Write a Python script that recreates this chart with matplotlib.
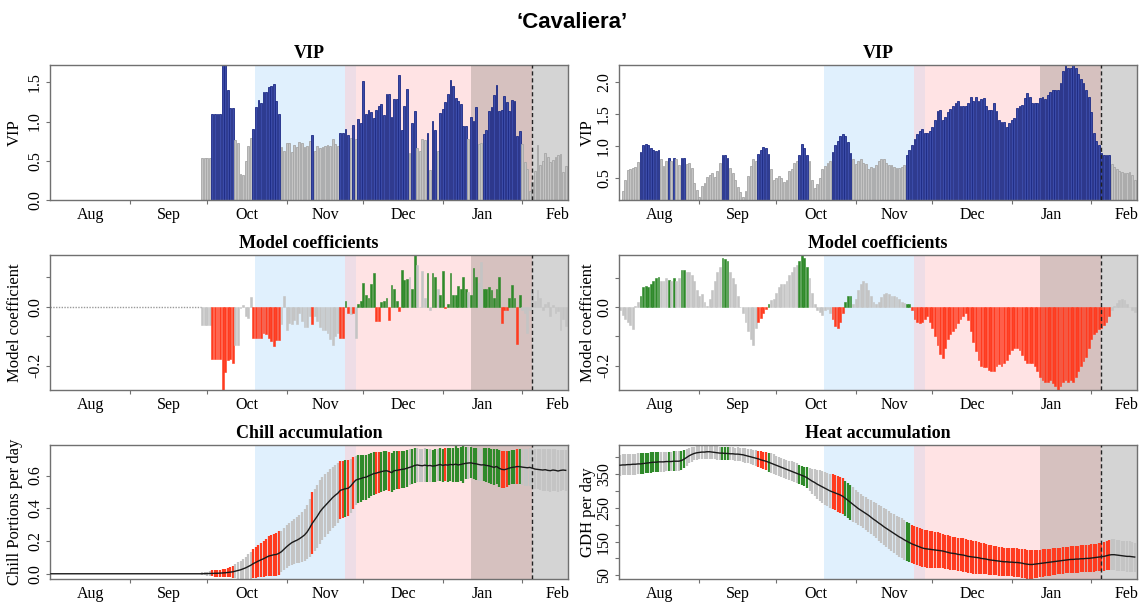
import numpy as np
import matplotlib
matplotlib.use('Agg')
import matplotlib.pyplot as plt

plt.rcParams['font.family'] = ['Liberation Serif', 'DejaVu Serif']

# one bar per day, 1 Aug (day 0) to 18 Feb (day 201)
days = np.arange(202)
month_starts = [31, 61, 92, 122, 153, 184]
month_mids = [15.5, 46, 76.5, 107, 137.5, 168.5, 198]
month_labels = ['Aug', 'Sep', 'Oct', 'Nov', 'Dec', 'Jan', 'Feb']

# phase shading (day boundaries) and bloom date
phase_bounds = [79.5, 115, 119, 164, 188, 202]
phase_colors = ['#E0F0FD', '#EEDDE6', '#FFE3E4', '#D6C1BF', '#D4D4D4']
bloom_day = 188

# ---- left column: VIP, coefficients, chill (analysis starts 28 Sep) ----
vip_left = [0.0] * 59 + [
    0.54, 0.54, 0.54, 0.54,
    1.10, 1.10, 1.10, 1.10, 1.72, 1.72, 1.40, 1.17, 1.17,
    0.77, 0.72, 0.33, 0.32, 0.50, 0.69, 0.79,
    0.91, 1.19, 1.28, 1.23, 1.38, 1.37, 1.44, 1.45, 1.48, 1.26, 1.10,
    0.68, 0.62, 0.72, 0.72, 0.61, 0.70, 0.67, 0.74, 0.72, 0.68, 0.69, 0.75,
    0.83,
    0.62, 0.69, 0.66, 0.68, 0.69, 0.70, 0.69, 0.78, 0.71, 0.69,
    0.86, 0.86, 0.90, 0.83, 0.79, 0.96, 0.78,
    1.03, 0.98, 1.52, 1.09, 1.15, 1.12, 1.05, 1.15, 1.20, 1.22,
    1.08, 1.35, 1.35, 1.06, 1.29, 1.29, 1.59, 0.89, 1.20, 1.42,
    0.60, 0.98, 1.14, 0.66, 0.62, 0.78, 0.77, 0.86, 0.38, 1.01,
    0.89, 0.62, 1.11, 1.16, 1.25, 1.35, 1.53, 1.45, 1.30, 1.26,
    1.22, 0.94, 0.94, 0.78, 1.06, 1.01, 1.19, 0.71, 0.72, 0.84,
    0.89, 1.14, 1.19, 1.34, 1.46, 1.13, 1.15, 1.33, 1.25, 1.13,
    1.28, 1.26, 0.81, 0.88, 0.71, 0.48, 0.40, 0.11, 0.23, 0.37,
    0.70, 0.45, 0.50, 0.60, 0.55, 0.49, 0.51, 0.55, 0.57, 0.58, 0.36, 0.43]

coef_left = [0.0] * 59 + [
    -0.062, -0.062, -0.062, -0.062,
    -0.176, -0.176, -0.176, -0.176, -0.282, -0.22, -0.18, -0.176, -0.19,
    -0.128, -0.128, -0.005, 0.005, -0.03, -0.037, 0.032,
    -0.107, -0.107, -0.107, -0.107, -0.088, -0.094, -0.107, -0.117, -0.134, -0.114, -0.114,
    -0.06, 0.035, -0.08, -0.055, -0.06, -0.045, -0.06, -0.02, -0.05, -0.07, -0.07, -0.03,
    -0.06,
    -0.03, -0.05, -0.07, -0.08, -0.08, -0.09, -0.11, -0.13, -0.10, -0.09,
    -0.107, -0.107, 0.018, -0.02, -0.025, -0.02, -0.107,
    0.01, 0.02, 0.08, 0.04, 0.03, 0.078, 0.114, -0.05, -0.05, 0.015,
    0.02, 0.03, -0.045, 0.075, 0.06, 0.02, -0.015, 0.125, 0.09, 0.095,
    0.10, 0.06, 0.175, 0.14, 0.0, 0.12, 0.03, 0.115, -0.01, 0.115,
    0.10, 0.06, 0.04, 0.12, -0.005, 0.01, 0.115, 0.04, 0.04, 0.07,
    0.06, 0.10, 0.06, 0.05, 0.04, 0.13, 0.10, 0.08, 0.15, 0.06,
    0.06, 0.065, 0.055, 0.03, 0.06, 0.10, -0.055, -0.01, -0.01, 0.03,
    0.075, 0.03, -0.125, 0.04, -0.01, -0.02, -0.09, -0.01, 0.06, 0.02,
    0.055, 0.03, -0.01, 0.01, 0.015, -0.03, 0.005, -0.02, -0.015, -0.08, -0.04, -0.065]

chill_mean = [0.0] * 59 + [
    0.000, 0.001, 0.001, 0.002,
    0.002, 0.003, 0.003, 0.004, 0.005, 0.006, 0.008, 0.010, 0.012,
    0.016, 0.020, 0.024, 0.030, 0.036, 0.044, 0.052,
    0.062, 0.070, 0.078, 0.085, 0.092, 0.100, 0.108, 0.112, 0.116, 0.118, 0.125,
    0.135, 0.150, 0.165, 0.178, 0.190, 0.198, 0.205, 0.214, 0.225, 0.237, 0.255, 0.280,
    0.308,
    0.330, 0.352, 0.378, 0.398, 0.415, 0.432, 0.450, 0.466, 0.480, 0.492,
    0.510, 0.515, 0.520, 0.522, 0.535, 0.555, 0.572,
    0.578, 0.582, 0.588, 0.590, 0.598, 0.605, 0.612, 0.615, 0.620, 0.624,
    0.628, 0.630, 0.625, 0.618, 0.630, 0.632, 0.635, 0.638, 0.640, 0.645,
    0.650, 0.655, 0.662, 0.665, 0.662, 0.660, 0.664, 0.660, 0.662, 0.658,
    0.660, 0.664, 0.668, 0.662, 0.666, 0.664, 0.668, 0.666, 0.670, 0.665,
    0.668, 0.672, 0.675, 0.677, 0.678, 0.674, 0.672, 0.668, 0.665, 0.666,
    0.662, 0.660, 0.655, 0.650, 0.656, 0.645, 0.638, 0.636, 0.640, 0.646,
    0.650, 0.652, 0.655, 0.655, 0.652, 0.650, 0.648, 0.650, 0.645, 0.640,
    0.638, 0.636, 0.634, 0.636, 0.632, 0.630, 0.634, 0.632, 0.628, 0.632, 0.634, 0.632]

chill_sd = [0.0] * 59 + [
    0.008, 0.010, 0.012, 0.014,
    0.018, 0.020, 0.021, 0.022, 0.024, 0.026, 0.028, 0.032, 0.036,
    0.042, 0.050, 0.056, 0.062, 0.068, 0.075, 0.082,
    0.090, 0.095, 0.100, 0.106, 0.110, 0.115, 0.120, 0.124, 0.128, 0.132, 0.135,
    0.125, 0.128, 0.130, 0.132, 0.135, 0.138, 0.142, 0.148, 0.152, 0.158, 0.165, 0.175,
    0.190,
    0.190, 0.192, 0.195, 0.193, 0.192, 0.190, 0.190, 0.188, 0.186, 0.182,
    0.178, 0.176, 0.175, 0.172, 0.165, 0.158, 0.150,
    0.145, 0.142, 0.140, 0.138, 0.135, 0.132, 0.130, 0.128, 0.125, 0.122,
    0.120, 0.118, 0.118, 0.120, 0.118, 0.116, 0.115, 0.114, 0.113, 0.112,
    0.110, 0.108, 0.105, 0.102, 0.100, 0.100, 0.102, 0.100, 0.100, 0.098,
    0.100, 0.098, 0.100, 0.102, 0.100, 0.104, 0.102, 0.105, 0.108, 0.105,
    0.104, 0.115, 0.098, 0.095, 0.095, 0.096, 0.098, 0.100, 0.100, 0.102,
    0.104, 0.106, 0.108, 0.110, 0.108, 0.112, 0.114, 0.112, 0.108, 0.105,
    0.104, 0.105, 0.106, 0.108, 0.110, 0.112, 0.114, 0.116, 0.118, 0.120,
    0.122, 0.124, 0.126, 0.128, 0.128, 0.130, 0.130, 0.128, 0.126, 0.126, 0.125, 0.124]

# ---- right column: VIP, coefficients, heat ----
vip_right = [
    0.15, 0.29, 0.46, 0.62, 0.64, 0.65, 0.67, 0.74, 0.90, 1.01,
    1.03, 1.01, 0.97, 0.93, 0.92, 0.94, 0.79, 0.69, 0.76, 0.81,
    0.76, 0.81, 0.79, 0.70, 0.81, 0.81, 0.72, 0.73, 0.66, 0.42,
    0.30, 0.20, 0.37, 0.42, 0.51, 0.55, 0.58, 0.51, 0.60, 0.73,
    0.86, 0.86, 0.81, 0.66, 0.58, 0.46, 0.35, 0.28, 0.19, 0.29,
    0.52, 0.68, 0.79, 0.76, 0.88, 0.94, 0.98, 0.96, 0.88, 0.64,
    0.47, 0.49, 0.53, 0.50, 0.44, 0.47, 0.60, 0.63, 0.73, 0.76,
    0.86, 1.03, 0.97, 0.85, 0.76, 0.47, 0.34, 0.40, 0.50, 0.63,
    0.68, 0.73, 0.76,
    0.90, 1.01, 1.08, 1.16, 1.18, 1.15, 1.06, 0.89,
    0.79, 0.71, 0.76, 0.79, 0.73, 0.71, 0.64, 0.67, 0.66, 0.70,
    0.76, 0.79, 0.79, 0.73, 0.70, 0.70, 0.67, 0.66, 0.66, 0.67, 0.70,
    0.86, 0.94, 1.01, 1.11, 1.18, 1.23, 1.26, 1.20, 1.20, 1.24,
    1.30, 1.41, 1.54, 1.57, 1.41, 1.45, 1.53, 1.58, 1.62, 1.68,
    1.70, 1.62, 1.62, 1.63, 1.67, 1.77, 1.71, 1.77, 1.70, 1.73,
    1.75, 1.62, 1.56, 1.56, 1.67, 1.54, 1.41, 1.37, 1.37, 1.30,
    1.36, 1.41, 1.44, 1.59, 1.63, 1.64, 1.75, 1.83, 1.77, 1.67,
    1.67, 1.67, 1.75, 1.77, 1.73, 1.80, 1.84, 1.87, 1.87, 1.88,
    1.98, 2.17, 2.27, 2.23, 2.23, 2.27, 2.23, 2.13, 2.05, 1.98,
    1.88, 1.77, 1.53, 1.21, 1.08, 1.01, 0.89, 0.86, 0.86, 0.86,
    0.71, 0.67, 0.64, 0.60, 0.59, 0.58, 0.58, 0.59, 0.54, 0.47]

coef_right = [
    -0.01, -0.025, -0.04, -0.05, -0.06, -0.075, 0.005, 0.02,
    0.04, 0.07, 0.075, 0.07, 0.08, 0.09, 0.10, 0.105,
    0.09, 0.09, 0.10, 0.095, 0.09, 0.10, 0.09, 0.10, 0.13, 0.13,
    0.12, 0.12, 0.11, 0.09, 0.06, 0.04, 0.045, 0.02, 0.005, 0.03,
    0.06, 0.09, 0.12, 0.14, 0.17, 0.165, 0.16, 0.12, 0.10, 0.08,
    0.04, 0.0, -0.02, -0.05, -0.08, -0.11, -0.13, -0.07, -0.05, -0.035,
    -0.02, -0.005, 0.01, 0.025, 0.03, 0.05, 0.07, 0.08, 0.08, 0.09,
    0.11, 0.12, 0.14, 0.145, 0.16, 0.18, 0.17, 0.14, 0.10, 0.05,
    0.01, -0.01, -0.015, -0.025, -0.01, -0.005, -0.02,
    -0.04, -0.065, -0.07, -0.05, -0.02, 0.02, 0.04, 0.04,
    0.01, 0.03, 0.06, 0.08, 0.09, 0.085, 0.06, 0.04, 0.02, 0.01,
    0.02, 0.035, 0.045, 0.05, 0.045, 0.04, 0.04, 0.035, 0.03, 0.02, 0.015,
    0.01, 0.01,
    -0.01, -0.04, -0.05, -0.055, -0.05, -0.04, -0.03, -0.05, -0.07, -0.10,
    -0.13, -0.16, -0.175, -0.14, -0.11, -0.09, -0.08, -0.07, -0.055, -0.04,
    -0.03, -0.02, -0.045, -0.08, -0.12, -0.15, -0.18, -0.20, -0.205, -0.205,
    -0.215, -0.22, -0.22, -0.20, -0.195, -0.20, -0.19, -0.18, -0.16, -0.145,
    -0.14, -0.14, -0.145, -0.165, -0.18, -0.19, -0.19, -0.19, -0.20, -0.22,
    -0.24, -0.25, -0.255, -0.255, -0.25, -0.26, -0.27, -0.284, -0.27, -0.255,
    -0.25, -0.255, -0.25, -0.255, -0.24, -0.22, -0.20, -0.185, -0.17, -0.14,
    -0.11, -0.09, -0.085, -0.075, -0.07, -0.06, -0.05, -0.03,
    -0.01, 0.005, 0.015, 0.025, 0.03, 0.025, 0.01, 0.0, -0.01, -0.015]

heat_mean = [
    376, 377, 377, 378, 378, 379, 379, 380, 380, 381,
    382, 383, 384, 385, 385, 386, 386, 386, 387, 387,
    387, 388, 388, 388, 390, 394, 399, 404, 408, 411,
    413, 414, 415, 415, 416, 416, 415, 414, 413, 412,
    412, 411, 411, 410, 410, 409, 409, 408, 407, 405,
    403, 401, 399, 397, 395, 392, 390, 388, 385, 382,
    379, 376, 373, 370, 367, 364, 361, 358, 355, 352,
    349, 346, 343, 339, 334, 329, 325, 320, 316, 312,
    308, 304, 300, 297, 294, 291, 288, 284, 278, 272,
    266, 260, 254, 248, 243, 238, 233, 228, 222, 216,
    211, 205, 200, 194, 189, 184, 179, 174, 169, 164,
    160, 155, 151, 147, 143, 140, 137, 134, 131, 129,
    128, 127, 126, 125, 124, 123, 122, 120, 118, 116,
    115, 114, 112, 111, 110, 108, 106, 105, 104, 103,
    102, 100, 99, 98, 96, 95, 94, 93, 92, 91,
    90, 90, 89, 89, 88, 88, 87, 86, 84, 83,
    82, 82, 83, 84, 85, 86, 87, 88, 89, 90,
    91, 92, 93, 94, 95, 96, 97, 97, 98, 98,
    99, 99, 100, 100, 101, 102, 103, 104, 105, 106,
    108, 110, 111, 111, 110, 109, 108, 107, 106, 106,
    105, 104]

heat_sd = [
    31, 31, 31, 31, 31, 31, 31, 31, 31, 31,
    30, 30, 30, 30, 29, 29, 29, 29, 29, 29,
    29, 29, 29, 29, 28, 26, 24, 22, 21, 20,
    20, 20, 20, 20, 20, 20, 20, 20, 20, 19,
    19, 19, 19, 19, 19, 19, 20, 20, 20, 21,
    21, 22, 22, 23, 24, 25, 26, 27, 28, 29,
    29, 28, 28, 28, 29, 29, 29, 30, 30, 30,
    29, 29, 29, 31, 34, 37, 40, 43, 45, 47,
    49, 50, 51, 52, 52, 53, 53, 53, 52, 52,
    52, 51, 50, 49, 48, 48, 48, 49, 50, 51,
    52, 53, 54, 55, 56, 57, 57, 58, 58, 59,
    59, 59, 58, 58, 57, 57, 56, 56, 56, 55,
    55, 54, 54, 53, 53, 52, 51, 50, 50, 49,
    49, 49, 49, 49, 49, 49, 49, 49, 49, 48,
    47, 46, 46, 45, 45, 44, 44, 43, 43, 42,
    42, 42, 42, 42, 42, 42, 42, 43, 43, 43,
    43, 43, 42, 42, 41, 41, 40, 40, 40, 40,
    40, 39, 39, 39, 39, 39, 39, 40, 40, 40,
    40, 40, 40, 40, 41, 41, 41, 41, 41, 42,
    43, 44, 46, 46, 46, 46, 45, 45, 45, 45,
    44, 43]

VIP_THRESHOLD = 0.8
BLUE, BLUE_EDGE = '#3B4BA8', '#1C2A85'
GREY, GREY_EDGE = '#C4C4C4', '#A6A6A6'
RED, GREEN = '#FF3B1F', '#2F8A2A'
SPINE = '#707070'


def vip_colours(vip):
    return [(BLUE, BLUE_EDGE) if v > VIP_THRESHOLD else (GREY, GREY_EDGE) for v in vip]


def coef_colours(vip, coef):
    out = []
    for v, c in zip(vip, coef):
        if v > VIP_THRESHOLD:
            out.append(RED if c < 0 else GREEN)
        else:
            out.append(GREY)
    return out


def base_axes(ax, title, ylabel, label_x):
    for (a, b), col in zip(zip(phase_bounds[:-1], phase_bounds[1:]), phase_colors):
        ax.axvspan(a, b, color=col, lw=0, zorder=0)
    ax.axvline(bloom_day, color='#222222', ls=(0, (3, 2)), lw=1, zorder=4)
    ax.set_xlim(-0.4, 201.9)
    ax.set_xticks(month_starts)
    ax.set_xticklabels([])
    ax.set_xticks(month_mids, minor=True)
    ax.set_xticklabels(month_labels, minor=True)
    ax.tick_params(axis='x', which='major', length=3, color=SPINE)
    ax.tick_params(axis='x', which='minor', length=0, pad=5, labelsize=11.5)
    ax.tick_params(axis='y', length=3, color=SPINE, labelsize=11.5, pad=2)
    for s in ax.spines.values():
        s.set_color(SPINE)
        s.set_linewidth(1.0)
    ax.set_title(title, fontsize=13, fontweight='bold', pad=5)
    ax.set_ylabel(ylabel, fontsize=12)
    ax.yaxis.set_label_coords(label_x, 0.5)


def rotate_yticks(ax, ticks, labels):
    ax.set_yticks(ticks)
    ax.set_yticklabels(labels)
    for lab in ax.get_yticklabels():
        lab.set_rotation(90)
        lab.set_va('center')


def draw_vip(ax, vip, ticks, first_day):
    cols = vip_colours(vip)
    d = days[first_day:]
    ax.bar(d, vip[first_day:], width=0.72, color=[c[0] for c in cols[first_day:]],
           edgecolor=[c[1] for c in cols[first_day:]], linewidth=0.6, zorder=2)
    ax.set_ylim(min(vip), max(vip))
    rotate_yticks(ax, ticks, [f'{t:.1f}' for t in ticks])


def draw_coef(ax, vip, coef, first_day):
    cols = coef_colours(vip, coef)
    d = days[first_day:]
    ax.bar(d, coef[first_day:], width=0.72, color=cols[first_day:],
           edgecolor=cols[first_day:], linewidth=0.4, zorder=2)
    if first_day > 0:
        ax.plot([-0.4, first_day - 0.5], [0, 0], color='#9A9A9A', lw=1, ls=(0, (1, 1)), zorder=2)
    ax.set_ylim(min(coef), max(coef))
    rotate_yticks(ax, [-0.2, -0.1, 0.0, 0.1], ['-0.2', '', '0.0', ''])


def draw_accum(ax, vip, coef, mean, sd, first_day, ticks, labels):
    cols = coef_colours(vip, coef)
    mean = np.asarray(mean, float)
    sd = np.asarray(sd, float)
    d = days[first_day:]
    ax.vlines(d, (mean - sd)[first_day:], (mean + sd)[first_day:],
              colors=cols[first_day:], lw=1.6, zorder=2)
    ax.plot(days, mean, color='#1A1A1A', lw=1.0, zorder=3)
    ax.set_ylim((mean - sd).min(), (mean + sd).max())
    rotate_yticks(ax, ticks, labels)


fig = plt.figure(figsize=(11.44, 6.03), dpi=100)
W, H = 1144, 603
cols_px = [50, 619]
rows_px = [(65, 200), (255, 390), (445, 579)]
axes = {}
for ci, x0 in enumerate(cols_px):
    for ri, (top, bot) in enumerate(rows_px):
        axes[(ri, ci)] = fig.add_axes([x0 / W, 1 - bot / H, 518 / W, (bot - top) / H])

fig.text(0.5, 1 - 22 / H, '\u2018Cavaliera\u2019', ha='center', va='center',
         fontsize=16, fontweight='bold', family=['Liberation Sans', 'DejaVu Sans'])

LX_LEFT, LX_RIGHT = -0.052, -0.045

# left column
ax = axes[(0, 0)]
base_axes(ax, 'VIP', 'VIP', LX_LEFT)
draw_vip(ax, vip_left, [0.0, 0.5, 1.0, 1.5], 59)

ax = axes[(1, 0)]
base_axes(ax, 'Model coefficients', 'Model coefficient', LX_LEFT)
draw_coef(ax, vip_left, coef_left, 59)

ax = axes[(2, 0)]
base_axes(ax, 'Chill accumulation', 'Chill Portions per day', LX_LEFT)
draw_accum(ax, vip_left, coef_left, chill_mean, chill_sd, 59,
           [0.0, 0.2, 0.4, 0.6], ['0.0', '0.2', '0.4', '0.6'])

# right column
ax = axes[(0, 1)]
base_axes(ax, 'VIP', 'VIP', LX_RIGHT)
draw_vip(ax, vip_right, [0.5, 1.0, 1.5, 2.0], 0)

ax = axes[(1, 1)]
base_axes(ax, 'Model coefficients', 'Model coefficient', LX_RIGHT)
draw_coef(ax, vip_right, coef_right, 0)

ax = axes[(2, 1)]
base_axes(ax, 'Heat accumulation', 'GDH per day', LX_RIGHT)
heat_ticks = [50, 100, 150, 200, 250, 300, 350, 400]
draw_accum(ax, vip_right, coef_right, heat_mean, heat_sd, 0,
           heat_ticks, ['50', '', '150', '', '250', '', '350', ''])

fig.savefig('out.png', dpi=100)
